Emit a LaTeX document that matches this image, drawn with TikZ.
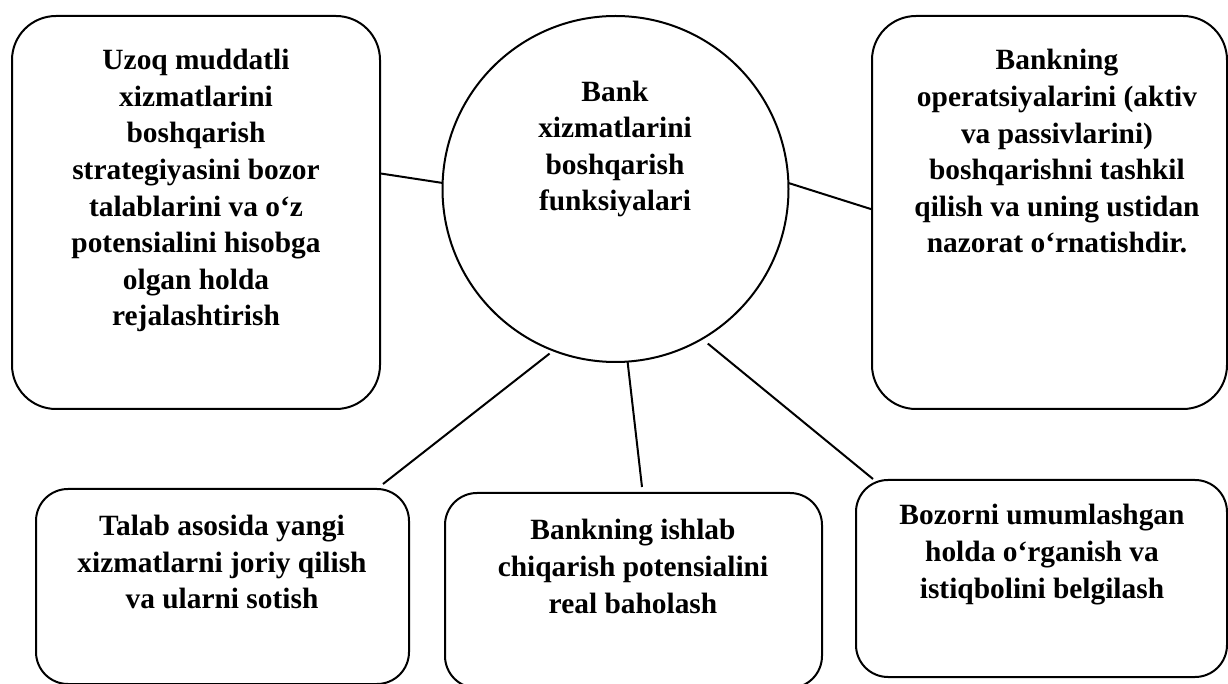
\documentclass[tikz,border=0pt]{standalone}
\usepackage{fontspec}
\setmainfont{Liberation Serif}
\usetikzlibrary{positioning}
\begin{document}
\begin{tikzpicture}[x=0.5pt, y=-0.5pt, line width=1pt,
  bigbox/.style={draw, rounded corners=22pt, inner sep=0pt, outer sep=0pt},
  smallbox/.style={draw, rounded corners=16pt, inner sep=0pt, outer sep=0pt},
  hub/.style={draw, circle, inner sep=0pt, outer sep=0pt, minimum size=173pt},
  lbl/.style={align=center, anchor=base, inner sep=0pt,
    font=\fontsize{14.7}{18.3}\selectfont\bfseries}]
  \useasboundingbox (0,0) rectangle (1228,684);
  % centre
  \node[hub] (c) at (615.5,189) {};
  \node[lbl] (tc) at (615,211) {Bank\\xizmatlarini\\boshqarish\\funksiyalari};
  % upper boxes
  \node[bigbox, minimum width=184pt, minimum height=196.5pt] (lt) at (196,212.5) {};
  \node[lbl] (tlt) at (196,326) {Uzoq muddatli\\xizmatlarini\\boshqarish\\strategiyasini bozor\\talablarini va o‘z\\potensialini hisobga\\olgan holda\\rejalashtirish};
  \node[bigbox, minimum width=177.5pt, minimum height=196.5pt] (rt) at (1049.5,212.5) {};
  \node[lbl] (trt) at (1057,253) {Bankning\\operatsiyalarini (aktiv\\va passivlarini)\\boshqarishni tashkil\\qilish va uning ustidan\\nazorat o‘rnatishdir.};
  % lower boxes
  \node[smallbox, minimum width=186.5pt, minimum height=97.5pt] (bl) at (222.5,586.5) {};
  \node[lbl] (tbl) at (222,609) {Talab asosida yangi\\xizmatlarni joriy qilish\\va ularni sotish};
  \node[smallbox, minimum width=188.5pt, minimum height=97.5pt] (bm) at (633.5,590.5) {};
  \node[lbl] (tbm) at (633,613) {Bankning ishlab\\chiqarish potensialini\\real baholash};
  \node[smallbox, minimum width=185.5pt, minimum height=98.5pt] (br) at (1041.5,578.5) {};
  \node[lbl] (tbr) at (1042,598) {Bozorni umumlashgan\\holda o‘rganish va\\istiqbolini belgilash};
  % links
  \coordinate (blend) at (383,484);
  \coordinate (bmend) at (642,487);
  \coordinate (brend) at (873,479);
  \draw (lt.12) -- (c.178);
  \draw (c.2) -- (rt.179);
  \draw[shorten <=2.5pt] (c.-111) -- (blend);
  \draw (c.-86) -- (bmend);
  \draw[shorten <=3.75pt] (c.-60) -- (brend);
\end{tikzpicture}
\end{document}
